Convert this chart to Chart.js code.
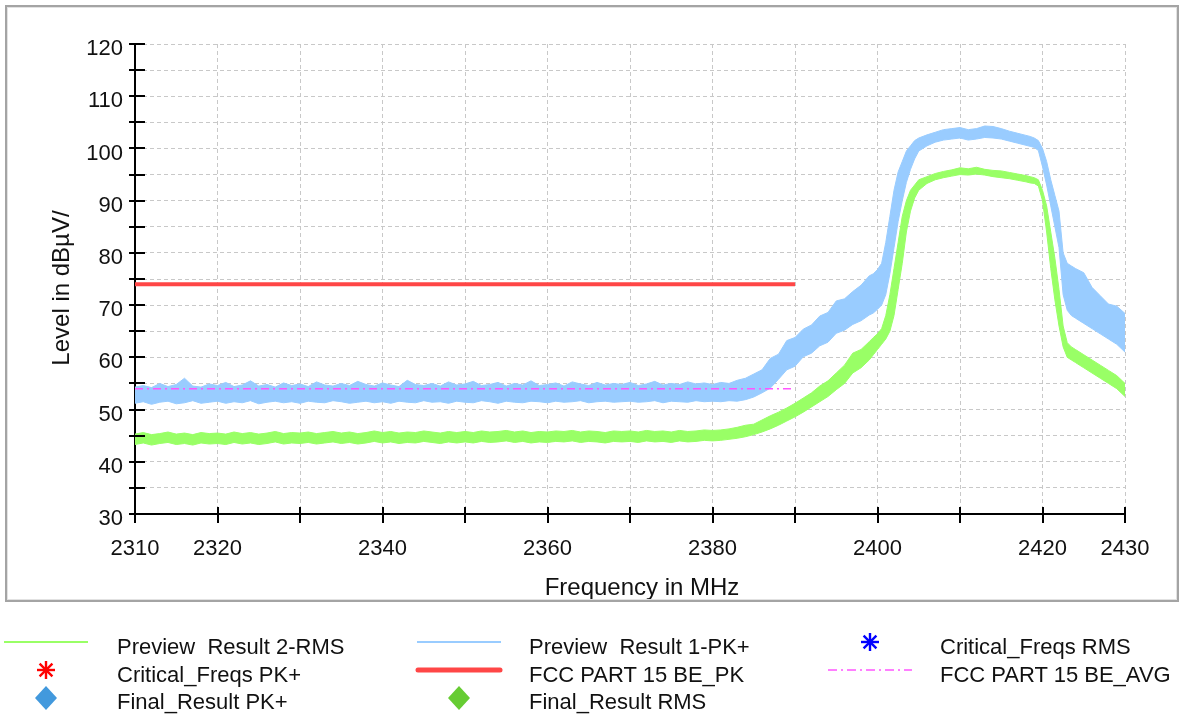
<!DOCTYPE html>
<html>
<head>
<meta charset="utf-8">
<title>Level vs frequency, 2310-2430 MHz</title>
<script src="https://cdn.jsdelivr.net/npm/chart.js@4.4.1/dist/chart.umd.min.js"></script>
<style>
  html, body { margin: 0; padding: 0; background: #fff; }
  body { width: 1189px; height: 717px; position: relative; overflow: hidden;
         font-family: Arial, "Liberation Sans", sans-serif; }
  #plot { position: absolute; left: 0; top: 0; width: 1189px; height: 610px; }
  #frame { position: absolute; left: 5px; top: 5px; width: 1170px; height: 593px;
           border: 2px solid #a4a4a4; box-shadow: inset 0 0 0 1px #e2e2e2; pointer-events: none; }
  #marks { position: absolute; left: 0; top: 0; }
  .leg { position: absolute; font-size: 22px; line-height: 22px; color: #111; white-space: pre; }
</style>
</head>
<body>
<div id="plot"><canvas id="levelChart"></canvas></div>
<div id="frame"></div>
<svg id="marks" width="1189" height="717"></svg>
<div id="legend"></div>

<script>
/* ---------- sweep data (MHz / dBµV) ---------- */

const freqs = [
  2310, 2311, 2312, 2313, 2314, 2315, 2316, 2317, 2318, 2319,
  2320, 2321, 2322, 2323, 2324, 2325, 2326, 2327, 2328, 2329,
  2330, 2331, 2332, 2333, 2334, 2335, 2336, 2337, 2338, 2339,
  2340, 2341, 2342, 2343, 2344, 2345, 2346, 2347, 2348, 2349,
  2350, 2351, 2352, 2353, 2354, 2355, 2356, 2357, 2358, 2359,
  2360, 2361, 2362, 2363, 2364, 2365, 2366, 2367, 2368, 2369,
  2370, 2371, 2372, 2373, 2374, 2375, 2376, 2377, 2378, 2379,
  2380, 2381, 2382, 2383, 2384,
  2385, 2386, 2387, 2388, 2389, 2390, 2391, 2392, 2393, 2394,
  2395, 2396, 2397, 2398, 2399,
  2399.5, 2400, 2400.5, 2401, 2401.5, 2402, 2402.5, 2403, 2403.5, 2404, 2404.5, 2405,
  2406, 2407, 2408, 2409, 2410, 2411, 2412, 2413, 2414, 2415, 2416, 2417, 2418,
  2418.5, 2419, 2419.5, 2420, 2420.5, 2421, 2421.5, 2422, 2422.5, 2423, 2423.5, 2424,
  2425, 2426, 2427, 2428, 2429, 2430
];

// Preview Result 1-PK+ : upper / lower edge of the trace
const pkHigh = [
  54.3, 54.6, 54.2, 55.0, 54.4, 54.8, 56.0, 54.5, 54.3, 54.9,
  54.6, 55.2, 54.4, 54.7, 55.5, 54.5, 54.8, 54.3, 55.1, 54.6,
  54.9, 54.4, 55.3, 54.7, 54.5, 55.0, 54.6, 55.4, 54.8, 54.5,
  55.1, 54.7, 54.4, 55.6, 54.8, 54.6, 55.0, 54.5, 55.3, 54.7,
  54.9, 55.4, 54.6, 54.8, 55.2, 54.5, 55.0, 54.7, 55.5, 54.6,
  54.8, 55.1, 54.5, 55.3, 54.9, 54.6, 55.2, 54.7, 55.0, 54.8,
  55.2, 54.6, 54.9, 55.4, 54.7, 55.0, 54.8, 55.3, 54.9, 55.1,
  54.8, 55.2, 55.0, 55.6, 56.0,
  56.8, 57.6, 59.8, 60.6, 63.2, 63.8, 65.4, 66.2, 67.9, 68.6,
  70.8, 71.2, 72.6, 73.8, 75.6,
  76.0, 76.8, 78.0, 82.0, 87.0, 92.0, 95.5, 97.5, 99.5, 100.5, 101.5, 102.0,
  102.6, 103.1, 103.6, 103.8, 104.0, 103.6, 103.8, 104.3, 104.2, 103.8, 103.3, 102.9, 102.5,
  102.3, 102.0, 101.5, 100.0, 97.5, 94.0, 91.0, 88.0, 80.0, 78.0, 77.5, 77.0,
  76.2, 73.4, 71.8, 70.2, 69.8, 68.4
];
const pkLow = [
  51.2, 51.5, 51.0, 51.4, 51.6, 51.1, 51.3, 51.7, 51.2, 51.4,
  51.6, 51.2, 51.5, 51.3, 51.7, 51.1, 51.4, 51.6, 51.3, 51.5,
  51.2, 51.6, 51.4, 51.3, 51.7, 51.5, 51.2, 51.4, 51.6, 51.3,
  51.5, 51.2, 51.6, 51.4, 51.3, 51.7, 51.4, 51.5, 51.2, 51.6,
  51.4, 51.3, 51.7, 51.5, 51.2, 51.6, 51.4, 51.3, 51.6, 51.5,
  51.3, 51.6, 51.4, 51.5, 51.7, 51.3, 51.5, 51.6, 51.4, 51.5,
  51.6, 51.4, 51.5, 51.7, 51.3, 51.6, 51.5, 51.4, 51.7, 51.5,
  51.6, 51.5, 51.7, 51.6, 51.9,
  52.4, 53.2, 54.1, 55.8, 57.6, 58.3, 60.1, 60.8, 62.2, 62.9,
  64.6, 65.2, 66.3, 67.0, 68.1,
  68.5, 69.2, 70.0, 72.0, 76.0, 81.0, 86.0, 90.0, 93.5, 96.0, 98.0, 99.5,
  100.5, 101.2, 101.6, 101.8, 102.0, 101.6, 101.8, 102.1, 102.0, 101.8, 101.4, 101.0, 100.6,
  100.4, 100.2, 99.6, 96.5, 93.0, 89.0, 85.0, 81.0, 72.0, 69.0, 68.0, 67.5,
  66.5, 65.5, 64.5, 63.5, 62.5, 61.0
];

// Preview Result 2-RMS : upper / lower edge of the trace
const rmsHigh = [
  45.3, 45.6, 45.2, 45.4, 45.7, 45.3, 45.5, 45.2, 45.6, 45.4,
  45.5, 45.3, 45.7, 45.4, 45.6, 45.3, 45.5, 45.8, 45.4, 45.6,
  45.5, 45.7, 45.4, 45.6, 45.8, 45.5, 45.7, 45.4, 45.6, 45.9,
  45.6, 45.8, 45.5, 45.7, 45.6, 45.9, 45.7, 45.5, 45.8, 45.6,
  45.8, 45.6, 45.9, 45.7, 45.8, 46.0, 45.7, 45.9, 45.6, 45.8,
  45.7, 45.9, 45.8, 46.0, 45.7, 45.9, 45.8, 45.6, 45.9, 45.8,
  45.9, 45.7, 46.0, 45.8, 45.9, 45.7, 46.0, 45.8, 45.9, 46.1,
  46.0, 46.1, 46.3, 46.6, 47.0,
  47.2, 48.0, 48.8, 49.5, 50.3, 51.2, 52.2, 53.2, 54.5, 55.5,
  57.0, 58.5, 60.8, 61.5, 63.0,
  63.8, 64.5, 65.5, 68.0, 72.0, 77.0, 82.0, 87.0, 90.0, 92.0, 93.0, 94.0,
  94.6, 95.2, 95.6, 95.9, 96.3, 96.1, 96.4, 96.0, 95.8, 95.7, 95.4, 95.1, 94.8,
  94.6, 94.4, 94.0, 92.0, 89.0, 84.0, 79.0, 73.0, 66.0, 62.8, 62.0, 61.5,
  60.5, 59.5, 58.5, 57.5, 56.5, 55.0
];
const rmsLow = [
  43.3, 43.6, 43.2, 43.5, 43.7, 43.3, 43.5, 43.2, 43.6, 43.4,
  43.5, 43.3, 43.7, 43.4, 43.6, 43.3, 43.5, 43.8, 43.4, 43.6,
  43.5, 43.7, 43.4, 43.6, 43.8, 43.5, 43.7, 43.4, 43.6, 43.9,
  43.6, 43.8, 43.5, 43.7, 43.6, 43.9, 43.7, 43.5, 43.8, 43.6,
  43.8, 43.6, 43.9, 43.7, 43.8, 44.0, 43.7, 43.9, 43.6, 43.8,
  43.7, 43.9, 43.8, 44.0, 43.7, 43.9, 43.8, 43.6, 43.9, 43.8,
  43.9, 43.7, 44.0, 43.8, 43.9, 43.7, 44.0, 43.8, 43.9, 44.1,
  44.0, 44.1, 44.3, 44.5, 44.8,
  45.2, 45.7, 46.3, 47.0, 47.8, 48.6, 49.5, 50.5, 51.5, 52.5,
  53.8, 55.0, 57.0, 58.0, 59.5,
  60.5, 61.5, 62.5, 63.5, 65.0, 68.0, 73.0, 78.0, 84.0, 88.0, 90.5, 92.0,
  93.3, 94.0, 94.4, 94.7, 95.0, 94.9, 95.1, 94.9, 94.6, 94.4, 94.2, 93.9, 93.6,
  93.4, 93.3, 92.8, 90.0, 84.0, 77.0, 71.0, 66.0, 62.0, 60.0, 59.5, 59.0,
  58.0, 57.0, 56.0, 55.0, 54.0, 52.5
];

// FCC Part 15 band-edge limits
const limitFreqs = [2310, 2390];
const pkLimit = [74, 74];
const avgLimit = [54, 54];

// axis ticks that carry a number
const xLabelled = [2310, 2320, 2340, 2360, 2380, 2400, 2420, 2430];
const yLabelled = [30, 40, 50, 60, 70, 80, 90, 100, 110, 120];

/* ---------- helpers ---------- */

const FONT = 'Arial, "Liberation Sans", sans-serif';

function points(xs, ys){
    return xs.map((f, i) => ({ x: f, y: ys[i] }));
}

function band(data, color, fill, order){
    return {
        data: data,
        borderColor: color,
        backgroundColor: color,
        borderWidth: 1,
        pointRadius: 0,
        tension: 0,
        fill: fill,
        order: order
    };
}

/* ---------- crossing tick marks + axis titles ---------- */

const axisDecor = {
    id: "axisDecor",
    afterDraw(chart){
        const { ctx, chartArea: area, scales } = chart;
        const xs = scales.x;
        const ys = scales.y;

        ctx.save();
        ctx.strokeStyle = "#000";
        ctx.lineWidth = 2;
        ctx.beginPath();
        ys.ticks.forEach(t => {
            const py = Math.round(ys.getPixelForValue(t.value));
            ctx.moveTo(area.left - 6, py);
            ctx.lineTo(area.left + 10, py);
        });
        xs.ticks.forEach(t => {
            const px = Math.round(xs.getPixelForValue(t.value));
            ctx.moveTo(px, area.bottom - 7);
            ctx.lineTo(px, area.bottom + 9);
        });
        ctx.stroke();

        ctx.fillStyle = "#111";
        ctx.font = "24px " + FONT;
        ctx.textAlign = "center";
        ctx.textBaseline = "alphabetic";
        ctx.fillText("Frequency in MHz", (area.left + area.right) / 2 + 12, 595);

        ctx.translate(69, (area.top + area.bottom) / 2 + 9);
        ctx.rotate(-Math.PI / 2);
        ctx.fillText("Level in dBµV/", 0, 0);
        ctx.restore();
    }
};

/* ---------- chart ---------- */

new Chart(document.getElementById("levelChart"), {

    type: "line",

    data: {
        datasets: [
            band(points(freqs, pkHigh), "#99ccff", "+1", 3),
            band(points(freqs, pkLow), "#99ccff", false, 3),
            band(points(freqs, rmsHigh), "#99ff66", "+1", 2),
            band(points(freqs, rmsLow), "#99ff66", false, 2),
            {
                data: points(limitFreqs, pkLimit),
                borderColor: "#ff4646",
                borderWidth: 4,
                pointRadius: 0,
                fill: false,
                order: 1
            },
            {
                data: points(limitFreqs, avgLimit),
                borderColor: "#ff55ff",
                borderWidth: 1.5,
                borderDash: [8, 4, 2, 4],
                pointRadius: 0,
                fill: false,
                order: 0
            }
        ]
    },

    options: {
        responsive: true,
        maintainAspectRatio: false,
        animation: false,
        events: [],
        layout: { padding: { left: 0, right: 64, top: 44, bottom: 0 } },
        plugins: {
            legend: { display: false },
            tooltip: { enabled: false }
        },
        scales: {
            x: {
                type: "linear",
                min: 2310,
                max: 2430,
                afterFit(scale){ scale.height = 96; },
                grid: { color: "#c8c8c8", lineWidth: 1, drawTicks: false },
                border: { display: true, color: "#000", width: 2, dash: [4, 3] },
                ticks: {
                    stepSize: 10,
                    autoSkip: false,
                    maxRotation: 0,
                    padding: 22,
                    color: "#111",
                    font: { family: FONT, size: 22 },
                    callback: v => xLabelled.includes(v) ? String(v) : ""
                }
            },
            y: {
                min: 30,
                max: 120,
                afterFit(scale){ scale.width = 135; },
                grid: { color: "#c8c8c8", lineWidth: 1, drawTicks: false },
                border: { display: true, color: "#000", width: 2, dash: [4, 3] },
                ticks: {
                    stepSize: 5,
                    autoSkip: false,
                    padding: 12,
                    labelOffset: 5,
                    color: "#111",
                    font: { family: FONT, size: 22 },
                    callback: v => yLabelled.includes(v) ? String(v) : ""
                }
            }
        }
    },

    plugins: [axisDecor]

});

/* ---------- legend ---------- */

const legendItems = [
    { label: "Preview  Result 2-RMS", mark: "line",    color: "#99ff66", col: 0, row: 0 },
    { label: "Preview  Result 1-PK+", mark: "line",    color: "#99ccff", col: 1, row: 0 },
    { label: "Critical_Freqs RMS",    mark: "star",    color: "#0000ff", col: 2, row: 0 },
    { label: "Critical_Freqs PK+",    mark: "star",    color: "#ff0000", col: 0, row: 1 },
    { label: "FCC PART 15 BE_PK",     mark: "thick",   color: "#ff4646", col: 1, row: 1 },
    { label: "FCC PART 15 BE_AVG",    mark: "dashdot", color: "#ff55ff", col: 2, row: 1 },
    { label: "Final_Result PK+",      mark: "diamond", color: "#4299dd", col: 0, row: 2 },
    { label: "Final_Result RMS",      mark: "diamond", color: "#66cc33", col: 1, row: 2 }
];

const markX = [46, 459, 870];
const textX = [117, 529, 940];
const rowY = [642, 670, 698];
const rowBaseline = [655, 683, 710];

const svg = document.getElementById("marks");
const legendBox = document.getElementById("legend");
let shapes = "";

legendItems.forEach(item => {

    const cx = markX[item.col];
    const cy = rowY[item.row];

    if(item.mark === "line"){
        shapes += `<line x1="${cx - 42}" y1="${cy}" x2="${cx + 42}" y2="${cy}" stroke="${item.color}" stroke-width="2"/>`;
    }else if(item.mark === "thick"){
        shapes += `<line x1="${cx - 41}" y1="${cy}" x2="${cx + 41}" y2="${cy}" stroke="${item.color}" stroke-width="5" stroke-linecap="round"/>`;
    }else if(item.mark === "dashdot"){
        shapes += `<line x1="${cx - 42}" y1="${cy}" x2="${cx + 42}" y2="${cy}" stroke="${item.color}" stroke-width="1.5" stroke-dasharray="9 4 2 4"/>`;
    }else if(item.mark === "star"){
        const r = 9, d = 6.4;
        shapes += `<g stroke="${item.color}" stroke-width="2.4">
            <line x1="${cx}" y1="${cy - r}" x2="${cx}" y2="${cy + r}"/>
            <line x1="${cx - r}" y1="${cy}" x2="${cx + r}" y2="${cy}"/>
            <line x1="${cx - d}" y1="${cy - d}" x2="${cx + d}" y2="${cy + d}"/>
            <line x1="${cx - d}" y1="${cy + d}" x2="${cx + d}" y2="${cy - d}"/></g>`;
    }else if(item.mark === "diamond"){
        shapes += `<polygon points="${cx},${cy - 12} ${cx + 11},${cy} ${cx},${cy + 12} ${cx - 11},${cy}" fill="${item.color}"/>`;
    }

    const txt = document.createElement("div");
    txt.className = "leg";
    txt.style.left = textX[item.col] + "px";
    txt.style.top = (rowBaseline[item.row] - 18.6) + "px";
    txt.textContent = item.label;
    legendBox.appendChild(txt);

});

svg.innerHTML = shapes;
</script>
</body>
</html>
